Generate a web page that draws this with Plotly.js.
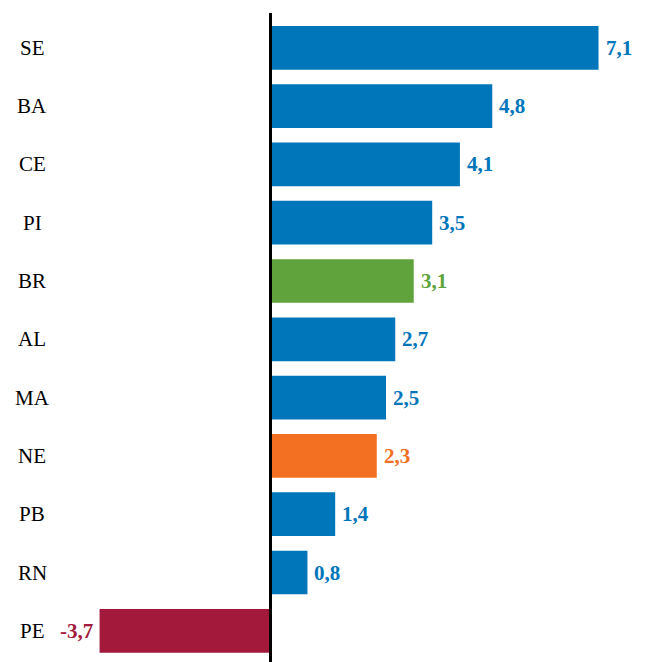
<!DOCTYPE html>
<html>
<head>
<meta charset="utf-8">
<script src="https://cdn.plot.ly/plotly-3.0.1.min.js"></script>
<style>html,body{margin:0;padding:0;background:#fff;}#chart{width:646px;height:662px;}</style>
</head>
<body>
<div id="chart"></div>
<script>
const categories = ["SE","BA","CE","PI","BR","AL","MA","NE","PB","RN","PE"];
const values = [7.1, 4.8, 4.1, 3.5, 3.1, 2.7, 2.5, 2.3, 1.4, 0.8, -3.7];
const barColors = ["#0076BA","#0076BA","#0076BA","#0076BA","#60A33C","#0076BA","#0076BA","#F36F21","#0076BA","#0076BA","#A3193C"];

const fmt = v => v.toFixed(1).replace('.', ',');
const serif = '"Liberation Serif", "Times New Roman", Times, serif';

const trace = {
  type: 'bar',
  orientation: 'h',
  x: values,
  y: categories,
  marker: {color: barColors},
  width: 0.75,
  hoverinfo: 'none'
};

const annotations = [];
categories.forEach((c, i) => {
  const v = values[i];
  annotations.push({
    x: v, y: c, xref: 'x', yref: 'y',
    text: '<b>' + fmt(v) + '</b>',
    showarrow: false,
    xanchor: v >= 0 ? 'left' : 'right',
    xshift: v >= 0 ? 5 : -5,
    font: {family: serif, size: 21, color: barColors[i]}
  });
  annotations.push({
    x: 32/646, y: c, xref: 'paper', yref: 'y',
    text: c, showarrow: false, xanchor: 'center',
    font: {family: serif, size: 21, color: '#000'}
  });
});

const z = 270.5;
const layout = {
  width: 646, height: 662,
  margin: {l: 0, r: 0, t: 13, b: 0},
  paper_bgcolor: '#fff', plot_bgcolor: '#fff',
  showlegend: false,
  xaxis: {
    range: [-z/46.2, (646 - z)/46.2],
    showgrid: false, showticklabels: false, ticks: '',
    zeroline: true, zerolinecolor: '#000', zerolinewidth: 3,
    zerolinelayer: 'above traces'
  },
  yaxis: {
    type: 'category',
    range: [10.535, -0.597],
    showgrid: false, showticklabels: false, ticks: '', zeroline: false
  },
  annotations: annotations
};

Plotly.newPlot('chart', [trace], layout, {staticPlot: true, displayModeBar: false});
</script>
</body>
</html>
